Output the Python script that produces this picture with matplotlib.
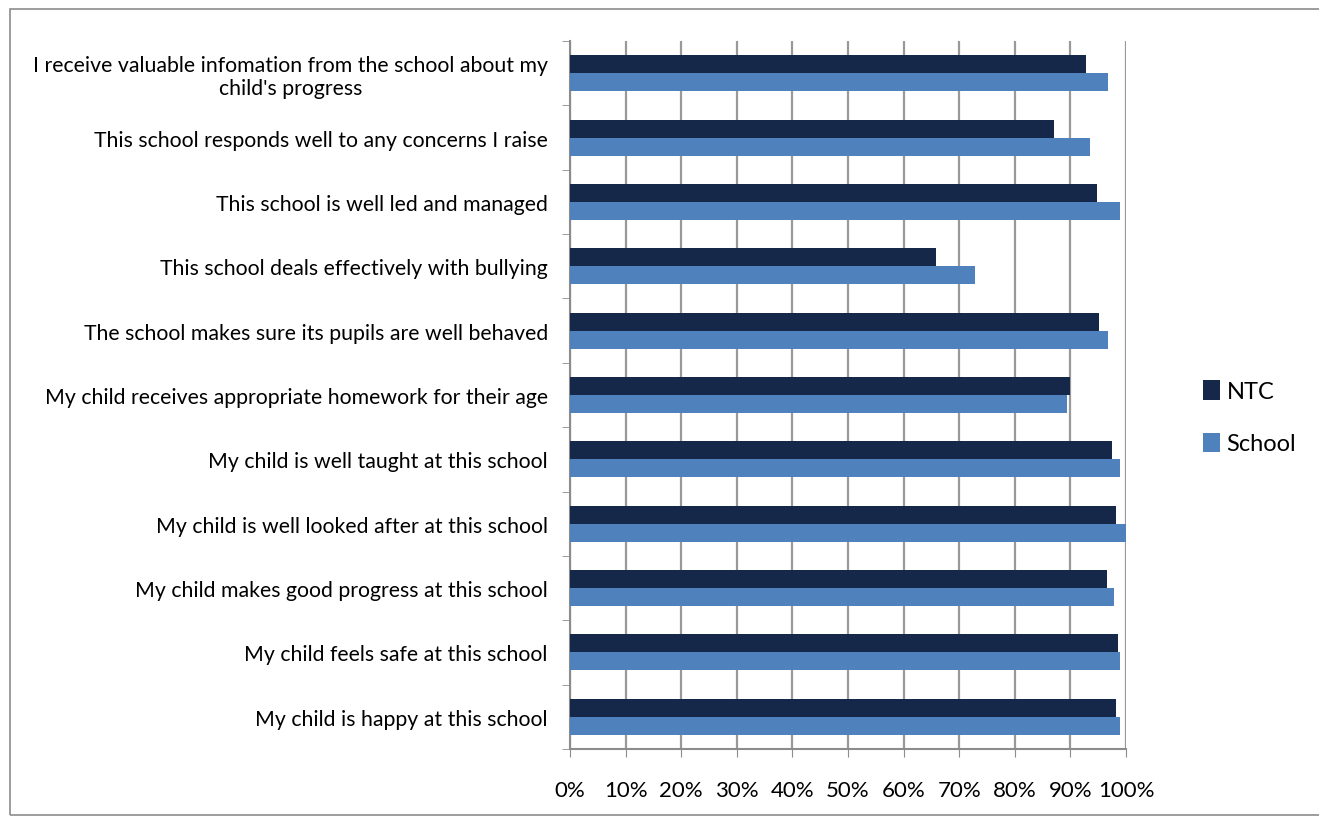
import numpy as np
import matplotlib.pyplot as plt
from matplotlib.ticker import FixedLocator, PercentFormatter
from matplotlib.patches import Rectangle

categories = [
    "I receive valuable infomation from the school about my\nchild's progress",
    "This school responds well to any concerns I raise",
    "This school is well led and managed",
    "This school deals effectively with bullying",
    "The school makes sure its pupils are well behaved",
    "My child receives appropriate homework for their age",
    "My child is well taught at this school",
    "My child is well looked after at this school",
    "My child makes good progress at this school",
    "My child feels safe at this school",
    "My child is happy at this school",
]
ntc = [92.8, 87.0, 94.7, 65.8, 95.1, 90.0, 97.4, 98.2, 96.6, 98.6, 98.2]
school = [96.7, 93.6, 99.0, 72.8, 96.7, 89.4, 99.0, 100.0, 97.8, 99.0, 99.0]

plt.rcParams['font.family'] = ['Lato', 'DejaVu Sans']

fig = plt.figure(figsize=(13.19, 8.2), dpi=100)
ax = fig.add_axes([0.4322, 0.0854, 0.4215, 0.8634])

y = np.arange(len(categories))
h = 0.28
ax.barh(y - h / 2, ntc, height=h, color='#15284A', label='NTC', zorder=3)
ax.barh(y + h / 2, school, height=h, color='#4F81BD', label='School', zorder=3)

ax.set_xlim(0, 100)
ax.set_ylim(len(categories) - 0.5, -0.5)
ax.set_xticks(np.arange(0, 101, 10))
ax.xaxis.set_major_formatter(PercentFormatter(decimals=0))
ax.set_yticks(y)
ax.set_yticklabels(categories, fontsize=15.3, multialignment='center',
                   linespacing=1.15)
ax.yaxis.set_minor_locator(FixedLocator(np.arange(-0.5, len(categories), 1)))
ax.tick_params(axis='y', which='major', length=0, pad=16)
ax.tick_params(axis='y', which='minor', length=6, color='#8C8C8C')
ax.tick_params(axis='x', length=6, color='#8C8C8C', labelsize=16, pad=16)

ax.grid(axis='x', color='#999999', linewidth=1.6, zorder=0)
for s in ['top', 'right']:
    ax.spines[s].set_visible(False)
for s in ['left', 'bottom']:
    ax.spines[s].set_color('#8C8C8C')
    ax.spines[s].set_linewidth(1.5)

fig.legend(loc='center left', bbox_to_anchor=(0.896, 0.49), frameon=False,
           fontsize=17, handlelength=0.7, handleheight=0.9, handletextpad=0.3,
           labelspacing=1.3)

fig.patches.append(Rectangle((10 / 1319, 4 / 820), 1.2, 806 / 820,
                             transform=fig.transFigure, fill=False,
                             edgecolor='#8C8C8C', linewidth=1.2))

fig.savefig('out.png', dpi=100)
